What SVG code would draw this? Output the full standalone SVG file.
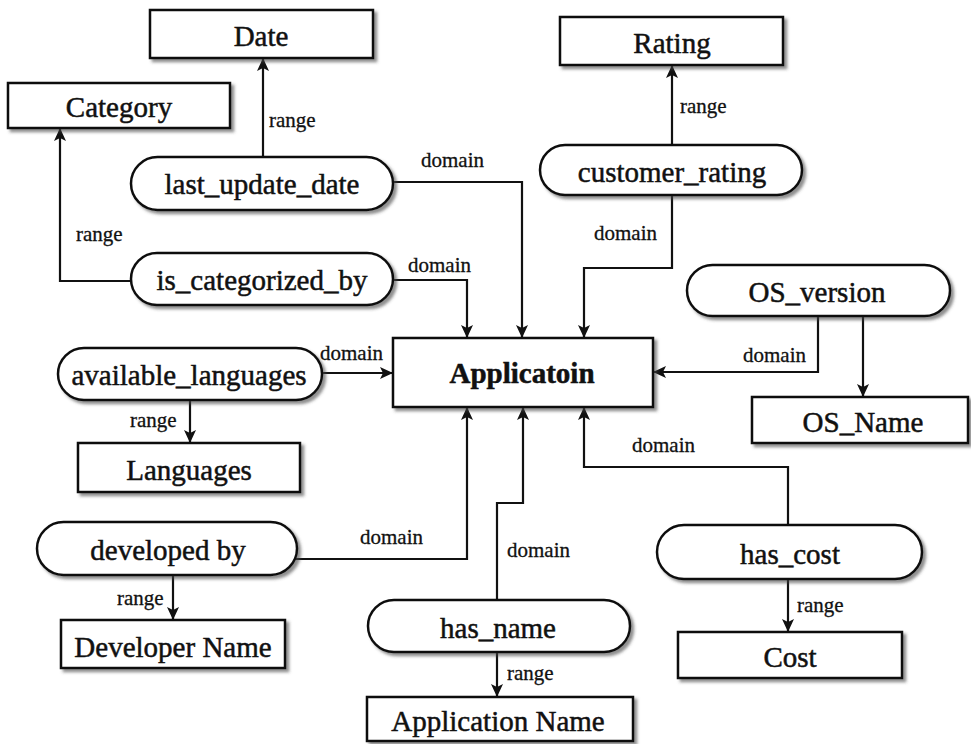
<svg xmlns="http://www.w3.org/2000/svg" width="971" height="744" viewBox="0 0 971 744">
<style>
.shape{fill:#fff;stroke:#111;stroke-width:2.5;filter:url(#sh)}
.lbl{font-family:"Liberation Serif","Times New Roman",serif;font-size:29px;fill:#111;stroke:#111;stroke-width:0.5;text-anchor:middle}
.bold{font-weight:bold}
.sm{font-family:"Liberation Serif","Times New Roman",serif;font-size:21px;fill:#111;stroke:#111;stroke-width:0.3}
.conn{fill:none;stroke:#111;stroke-width:2.2;marker-end:url(#arr)}
</style>
<defs>
<filter id="sh" x="-10%" y="-20%" width="125%" height="150%">
<feDropShadow dx="3" dy="3" stdDeviation="1.8" flood-color="#444" flood-opacity="0.6"/>
</filter>
<marker id="arr" markerUnits="userSpaceOnUse" markerWidth="14" markerHeight="12" refX="13" refY="6" orient="auto">
<path d="M0,0 L13,6 L0,12 L3,6 Z" fill="#111"/>
</marker>
</defs>
<rect width="971" height="744" fill="#fff"/>
<g id="connectors">
<path class="conn" d="M263,157 V58"/>
<path class="conn" d="M131,281 H60 V128"/>
<path class="conn" d="M393,182 H522 V338"/>
<path class="conn" d="M393,280 H467 V338"/>
<path class="conn" d="M672,145 V65"/>
<path class="conn" d="M672,195 V268 H584 V338"/>
<path class="conn" d="M322,373 H393"/>
<path class="conn" d="M190,400 V443"/>
<path class="conn" d="M294,559 H467 V407"/>
<path class="conn" d="M173,575 V620"/>
<path class="conn" d="M497,600 V503 H523 V407"/>
<path class="conn" d="M497,652 V697"/>
<path class="conn" d="M788,525 V467 H584 V407"/>
<path class="conn" d="M788,579 V632"/>
<path class="conn" d="M818,316 V372 H653"/>
<path class="conn" d="M863,316 V397"/>
<text class="sm" x="269" y="127">range</text>
<text class="sm" x="421" y="167">domain</text>
<text class="sm" x="76" y="241">range</text>
<text class="sm" x="408" y="272">domain</text>
<text class="sm" x="680" y="113">range</text>
<text class="sm" x="594" y="240">domain</text>
<text class="sm" x="320" y="360">domain</text>
<text class="sm" x="130" y="427">range</text>
<text class="sm" x="360" y="544">domain</text>
<text class="sm" x="117" y="605">range</text>
<text class="sm" x="743" y="362">domain</text>
<text class="sm" x="632" y="452">domain</text>
<text class="sm" x="507" y="557">domain</text>
<text class="sm" x="797" y="612">range</text>
<text class="sm" x="507" y="680">range</text>
</g>
<g id="date"><rect class="shape" x="150" y="10" width="223" height="48"/><text class="lbl" x="261" y="46">Date</text></g>
<g id="category"><rect class="shape" x="8" y="83" width="222" height="45"/><text class="lbl" x="119" y="117">Category</text></g>
<g id="rating"><rect class="shape" x="560" y="17" width="223" height="48"/><text class="lbl" x="672" y="53">Rating</text></g>
<g id="last_update_date"><rect class="shape" x="131" y="157" width="262" height="53" rx="26.5"/><text class="lbl" x="262" y="194">last_update_date</text></g>
<g id="is_categorized_by"><rect class="shape" x="131" y="253" width="262" height="52" rx="26"/><text class="lbl" x="262" y="290">is_categorized_by</text></g>
<g id="customer_rating"><rect class="shape" x="540" y="145" width="262" height="50" rx="25"/><text class="lbl" x="672" y="182">customer_rating</text></g>
<g id="os_version"><rect class="shape" x="687" y="265" width="263" height="51" rx="25.5"/><text class="lbl" x="817" y="302">OS_version</text></g>
<g id="applicatoin"><rect class="shape" x="393" y="338" width="260" height="69"/><text class="lbl bold" x="522" y="383">Applicatoin</text></g>
<g id="available_languages"><rect class="shape" x="58" y="348" width="264" height="52" rx="26"/><text class="lbl" x="189" y="385">available_languages</text></g>
<g id="languages"><rect class="shape" x="78" y="443" width="222" height="49"/><text class="lbl" x="189" y="480">Languages</text></g>
<g id="os_name"><rect class="shape" x="752" y="397" width="216" height="46"/><text class="lbl" x="863" y="432">OS_Name</text></g>
<g id="developed_by"><rect class="shape" x="37" y="522" width="260" height="53" rx="26.5"/><text class="lbl" x="168" y="560">developed by</text></g>
<g id="developer_name"><rect class="shape" x="61" y="620" width="224" height="48"/><text class="lbl" x="173" y="657">Developer Name</text></g>
<g id="has_name"><rect class="shape" x="368" y="600" width="262" height="52" rx="26"/><text class="lbl" x="498" y="638">has_name</text></g>
<g id="application_name"><rect class="shape" x="367" y="697" width="266" height="44"/><text class="lbl" x="498" y="731">Application Name</text></g>
<g id="has_cost"><rect class="shape" x="657" y="525" width="265" height="54" rx="27"/><text class="lbl" x="790" y="564">has_cost</text></g>
<g id="cost"><rect class="shape" x="678" y="632" width="224" height="46"/><text class="lbl" x="790" y="667">Cost</text></g>
</svg>
